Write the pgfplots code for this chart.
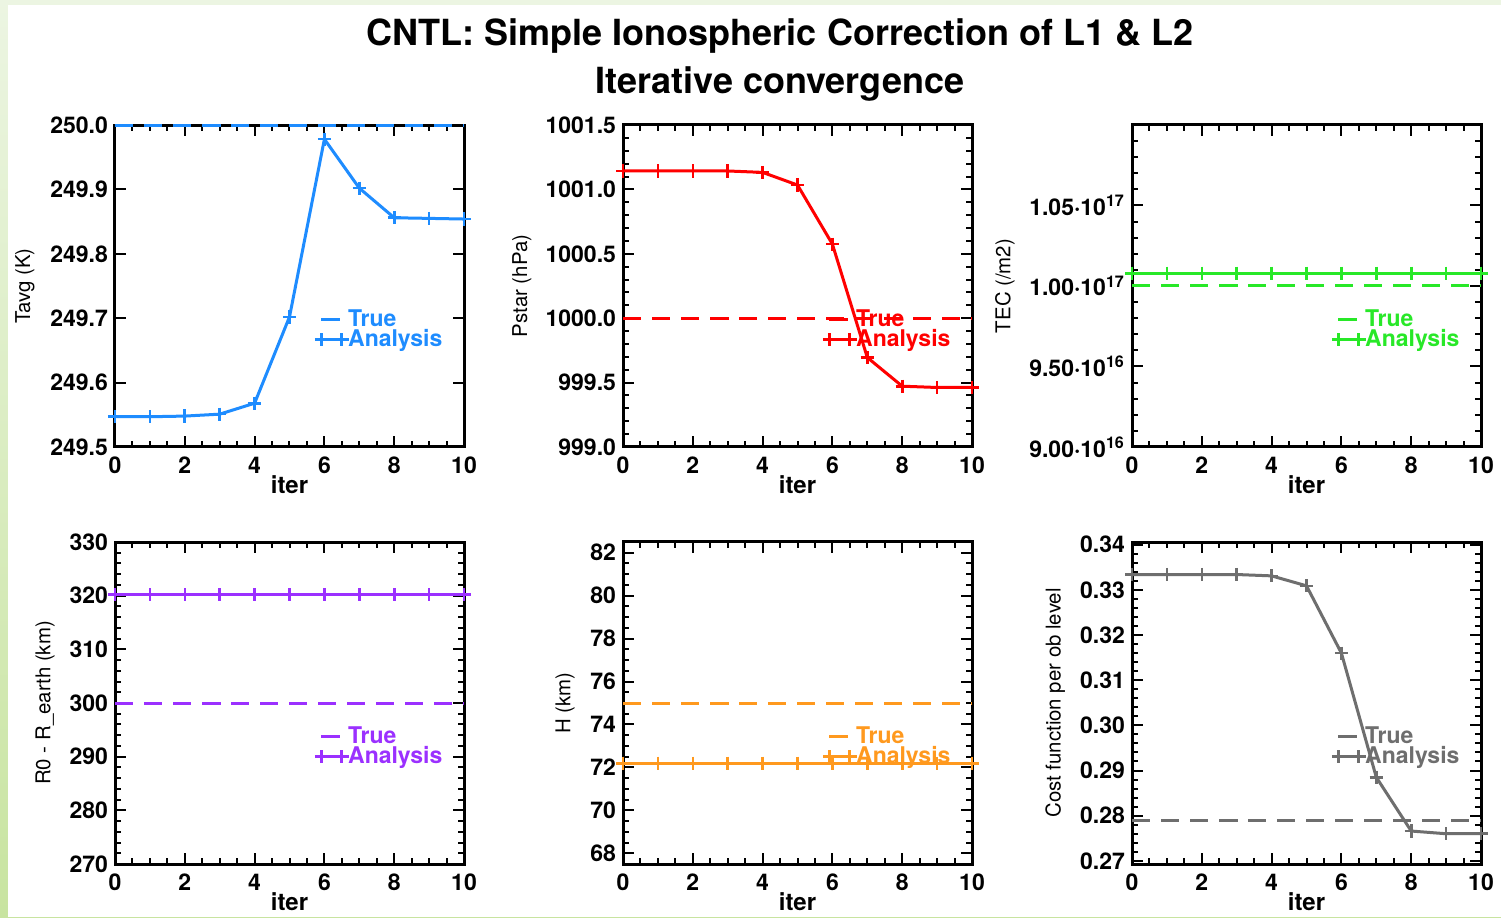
\documentclass[border=0pt]{standalone}
\usepackage{fontspec}
\setmainfont{TeX Gyre Heros}
\usepackage{pgfplots}
\pgfplotsset{compat=1.18}
\definecolor{cblue}{RGB}{30,140,255}
\definecolor{cred}{RGB}{255,0,0}
\definecolor{cgreen}{RGB}{40,232,40}
\definecolor{cpurple}{RGB}{155,48,255}
\definecolor{corange}{RGB}{255,153,30}
\definecolor{cgray}{RGB}{110,110,110}
\definecolor{stripTop}{RGB}{236,245,226}
\definecolor{stripBot}{RGB}{200,228,160}
\pgfplotsset{
  idl/.style={
    scale only axis, width=174.5pt, height=161pt,
    xmin=0, xmax=10, xtick={0,2,...,10}, minor x tick num=3,
    tick align=inside, tick pos=both,
    major tick length=5.5pt, minor tick length=3pt,
    tick style={black, line width=1pt},
    axis line style={line width=1.5pt},
    tick label style={font=\fontsize{11.5}{12}\selectfont\bfseries},
    xticklabel style={yshift=-1.5pt},
    /pgf/number format/assume math mode=true,
    xlabel={iter},
    xlabel style={font=\fontsize{12}{13}\selectfont\bfseries, at={(axis description cs:0.5,-0.118)}, anchor=center},
    ylabel style={font=\fontsize{10.2}{11}\selectfont, anchor=center},
    legend style={draw=none, fill=none, font=\fontsize{11.5}{12}\selectfont\bfseries,
      at={(axis description cs:0.5715,0.431)}, anchor=north west, row sep=-1.2pt, inner sep=0pt,
      column sep=-2pt, nodes={inner sep=0.6pt}},
    legend cell align=left,
    clip=false,
  },
  anl/.style={mark=+, mark size=3.3pt, line width=1.5pt, solid,
    mark options={solid, line width=1.3pt},
    legend image code/.code={\draw[##1,mark=none] (0pt,0pt) -- (14pt,0pt); \draw[##1] plot coordinates {(0pt,0pt) (10pt,0pt)};}},
  tru/.style={line width=1.5pt, dash pattern=on 9pt off 5.5pt,
    legend image code/.code={\path (0pt,0pt) -- (14pt,0pt); \draw[##1,solid] (3.5pt,0pt) -- (9.5pt,0pt);}},
}
\begin{document}
\begin{tikzpicture}
\path[use as bounding box] (0,0) rectangle (750.5pt,458.5pt);
\shade[top color=stripTop, bottom color=stripBot] (0,0) rectangle (750.5pt,458.5pt);
\fill[white] (4pt,0) rectangle (750.5pt,456pt);
\node[font=\fontsize{18}{20}\selectfont\bfseries] at (390pt,440.5pt) {CNTL: Simple Ionospheric Correction of L1 \& L2};
\node[font=\fontsize{18}{20}\selectfont\bfseries] at (390pt,416.5pt) {Iterative convergence};

% Panel 1
\begin{axis}[idl, at={(57.5pt,235pt)}, anchor=south west,
  ymin=249.5, ymax=250.0, ytick={249.5,249.6,...,250.01}, minor y tick num=4,
  yticklabel style={/pgf/number format/.cd, fixed, fixed zerofill, precision=1, 1000 sep={}},
  ylabel={Tavg (K)}, ylabel style={at={(axis description cs:-0.258,0.5)}},
  legend style={text=cblue}]
\addplot[cblue, tru] coordinates {(0,250)(1,250)(2,250)(3,250)(4,250)(5,250)(6,250)(7,250)(8,250)(9,250)(10,250)};
\addlegendentry{True}
\addplot[cblue, anl] coordinates {(0,249.547)(1,249.547)(2,249.548)(3,249.551)(4,249.568)(5,249.702)(6,249.978)(7,249.902)(8,249.856)(9,249.855)(10,249.854)};
\addlegendentry{Analysis}
\end{axis}

% Panel 2
\begin{axis}[idl, at={(311.5pt,235pt)}, anchor=south west,
  ymin=999.0, ymax=1001.5, ytick={999.0,999.5,...,1001.51}, minor y tick num=4,
  yticklabel style={/pgf/number format/.cd, fixed, fixed zerofill, precision=1, 1000 sep={}},
  ylabel={Pstar (hPa)}, ylabel style={at={(axis description cs:-0.29,0.5)}},
  legend style={text=cred}]
\addplot[cred, tru] coordinates {(0,1000)(1,1000)(2,1000)(3,1000)(4,1000)(5,1000)(6,1000)(7,1000)(8,1000)(9,1000)(10,1000)};
\addlegendentry{True}
\addplot[cred, anl] coordinates {(0,1001.143)(1,1001.143)(2,1001.143)(3,1001.143)(4,1001.132)(5,1001.034)(6,1000.575)(7,999.695)(8,999.472)(9,999.462)(10,999.462)};
\addlegendentry{Analysis}
\end{axis}

% Panel 3 (values in units of 1e17)
\begin{axis}[idl, at={(566pt,235pt)}, anchor=south west,
  ymin=0.9, ymax=1.1, ytick={0.9,0.95,1.0,1.05,1.1}, minor y tick num=4,
  yticklabels={9.00·10\textsuperscript{16},9.50·10\textsuperscript{16},1.00·10\textsuperscript{17},1.05·10\textsuperscript{17},{}},
  ylabel={TEC (/m2)}, ylabel style={at={(axis description cs:-0.364,0.5)}},
  legend style={text=cgreen}]
\addplot[cgreen, tru] coordinates {(0,1.0)(1,1.0)(2,1.0)(3,1.0)(4,1.0)(5,1.0)(6,1.0)(7,1.0)(8,1.0)(9,1.0)(10,1.0)};
\addlegendentry{True}
\addplot[cgreen, anl] coordinates {(0,1.0079)(1,1.0079)(2,1.0079)(3,1.0079)(4,1.0079)(5,1.0079)(6,1.0079)(7,1.0079)(8,1.0079)(9,1.0079)(10,1.0079)};
\addlegendentry{Analysis}
\end{axis}

% Panel 4
\begin{axis}[idl, at={(57.5pt,26.5pt)}, anchor=south west,
  ymin=270, ymax=330, ytick={270,280,...,330}, minor y tick num=4,
  ylabel={R0 - R\_earth (km)}, ylabel style={at={(axis description cs:-0.2,0.5)}},
  legend style={text=cpurple}]
\addplot[cpurple, tru] coordinates {(0,300)(1,300)(2,300)(3,300)(4,300)(5,300)(6,300)(7,300)(8,300)(9,300)(10,300)};
\addlegendentry{True}
\addplot[cpurple, anl] coordinates {(0,320.18)(1,320.18)(2,320.18)(3,320.18)(4,320.18)(5,320.18)(6,320.18)(7,320.18)(8,320.18)(9,320.18)(10,320.18)};
\addlegendentry{Analysis}
\end{axis}

% Panel 5
\begin{axis}[idl, at={(311.5pt,26.5pt)}, anchor=south west,
  ymin=67.5, ymax=82.5, ytick={68,70,...,82}, minor y tick num=3,
  ylabel={H (km)}, ylabel style={at={(axis description cs:-0.166,0.5)}},
  legend style={text=corange}]
\addplot[corange, tru] coordinates {(0,75)(1,75)(2,75)(3,75)(4,75)(5,75)(6,75)(7,75)(8,75)(9,75)(10,75)};
\addlegendentry{True}
\addplot[corange, anl] coordinates {(0,72.19)(1,72.19)(2,72.19)(3,72.19)(4,72.19)(5,72.19)(6,72.19)(7,72.19)(8,72.19)(9,72.19)(10,72.19)};
\addlegendentry{Analysis}
\end{axis}

% Panel 6
\begin{axis}[idl, at={(566pt,26.5pt)}, anchor=south west,
  ymin=0.2693, ymax=0.3406, ytick={0.27,0.28,...,0.341}, minor y tick num=4,
  yticklabel style={/pgf/number format/.cd, fixed, fixed zerofill, precision=2},
  ylabel={Cost function per ob level}, ylabel style={at={(axis description cs:-0.22,0.5)}},
  legend style={text=cgray}]
\addplot[cgray, tru] coordinates {(0,0.2789)(1,0.2789)(2,0.2789)(3,0.2789)(4,0.2789)(5,0.2789)(6,0.2789)(7,0.2789)(8,0.2789)(9,0.2789)(10,0.2789)};
\addlegendentry{True}
\addplot[cgray, anl] coordinates {(0,0.3334)(1,0.3334)(2,0.3334)(3,0.3334)(4,0.3331)(5,0.3309)(6,0.3160)(7,0.2885)(8,0.2766)(9,0.2760)(10,0.2760)};
\addlegendentry{Analysis}
\end{axis}
\end{tikzpicture}
\end{document}
